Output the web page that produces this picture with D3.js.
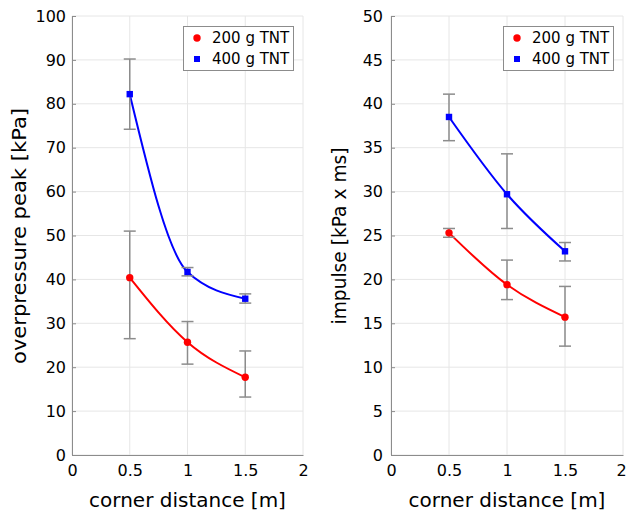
<!DOCTYPE html>
<html>
<head>
<meta charset="utf-8">
<script src="https://cdn.jsdelivr.net/npm/d3@7"></script>
<style>
  body { margin: 0; background: #fff; }
  text { font-family: "DejaVu Sans", sans-serif; fill: #000; }
</style>
</head>
<body>
<svg id="chart" width="627" height="515"></svg>
<script>
// corner distance [m]
var distance = [0.5, 1, 1.5]
var xTicks = [0, 0.5, 1, 1.5, 2]

// overpressure peak [kPa]
var peak200 = [40.4, 25.7, 17.7]
var peak200Lo = [26.5, 20.7, 13.2]
var peak200Hi = [51.0, 30.4, 23.7]
var peak400 = [82.2, 41.7, 35.6]
var peak400Lo = [74.2, 40.8, 34.6]
var peak400Hi = [90.2, 42.7, 36.7]

// impulse [kPa x ms]
var imp200 = [25.3, 19.4, 15.7]
var imp200Lo = [24.8, 17.7, 12.4]
var imp200Hi = [25.8, 22.2, 19.2]
var imp400 = [38.5, 29.7, 23.2]
var imp400Lo = [35.8, 25.8, 22.1]
var imp400Hi = [41.1, 34.3, 24.2]

var legendLabels = ['200 g TNT', '400 g TNT']

var svg = d3.select('#chart')

var drawPanel = function (opt) {
	var x = d3.scaleLinear().domain([0, 2]).range([opt.left, opt.right])
	var y = d3.scaleLinear().domain([0, opt.ymax]).range([455, 16])
	var g = svg.append('g')
	var yTicks = d3.range(0, opt.ymax + 0.001, opt.ystep)

	// grid
	g.selectAll('.gx').data(xTicks).enter().append('line')
		.attr('x1', d => x(d)).attr('x2', d => x(d))
		.attr('y1', y(0)).attr('y2', y(opt.ymax))
		.attr('stroke', '#e6e6e6').attr('stroke-width', 1)
	g.selectAll('.gy').data(yTicks).enter().append('line')
		.attr('x1', x(0)).attr('x2', x(2))
		.attr('y1', d => y(d)).attr('y2', d => y(d))
		.attr('stroke', '#e6e6e6').attr('stroke-width', 1)

	// axes
	var xAxis = g.append('g').attr('transform', 'translate(0,' + y(0) + ')')
		.call(d3.axisBottom(x).tickValues(xTicks).tickSize(0).tickPadding(10).tickFormat(d3.format('')))
	var yAxis = g.append('g').attr('transform', 'translate(' + x(0) + ',0)')
		.call(d3.axisLeft(y).tickValues(yTicks).tickSize(-4).tickPadding(opt.pad).tickFormat(d3.format('')))
	;[xAxis, yAxis].forEach(function (a) {
		a.select('.domain').attr('stroke', '#8c8c8c')
		a.selectAll('.tick line').attr('stroke', '#8c8c8c')
		a.selectAll('text').style('font-size', '16px').attr('fill', '#000')
	})
	xAxis.selectAll('text').attr('dy', '0.71em')
	// keep the last label inside the window
	xAxis.selectAll('.tick text').filter(d => d == 2).attr('dx', opt.lastDx)

	// labels
	g.append('text').attr('x', (opt.left + opt.right) / 2).attr('y', 507)
		.attr('text-anchor', 'middle').style('font-size', '20px').text('corner distance [m]')
	g.append('text').attr('transform', 'translate(' + opt.labelX + ',' + 236 + ') rotate(-90)')
		.attr('text-anchor', 'middle').style('font-size', '20px')
		.attr('textLength', opt.labelLen).attr('lengthAdjust', 'spacingAndGlyphs')
		.text(opt.label)

	var line = d3.line().x(d => x(d[0])).y(d => y(d[1])).curve(d3.curveMonotoneX)

	opt.series.forEach(function (s) {
		var pts = distance.map((d, i) => [d, s.v[i]])
		g.append('path').datum(pts).attr('d', line)
			.attr('fill', 'none').attr('stroke', s.color).attr('stroke-width', 2)
		distance.forEach(function (d, i) {
			var cx = x(d)
			g.append('line').attr('x1', cx).attr('x2', cx).attr('y1', y(s.lo[i])).attr('y2', y(s.hi[i]))
				.attr('stroke', '#8c8c8c').attr('stroke-width', 1.5)
			;[s.lo[i], s.hi[i]].forEach(function (e) {
				g.append('line').attr('x1', cx - 6).attr('x2', cx + 6).attr('y1', y(e)).attr('y2', y(e))
					.attr('stroke', '#8c8c8c').attr('stroke-width', 1.5)
			})
		})
		distance.forEach(function (d, i) {
			if (s.shape == 'circle') {
				g.append('circle').attr('cx', x(d)).attr('cy', y(s.v[i])).attr('r', 3.7).attr('fill', s.color)
			} else {
				g.append('rect').attr('x', x(d) - 3.2).attr('y', y(s.v[i]) - 3.2)
					.attr('width', 6.4).attr('height', 6.4).attr('fill', s.color)
			}
		})
	})

	// legend
	var lx = opt.right - 120, ly = 26
	g.append('rect').attr('x', lx + 0.5).attr('y', ly + 0.5).attr('width', 110).attr('height', 44)
		.attr('fill', '#fff').attr('stroke', '#8c8c8c')
	opt.series.forEach(function (s, i) {
		var cy = ly + 12 + i * 21
		if (s.shape == 'circle') {
			g.append('circle').attr('cx', lx + 14).attr('cy', cy).attr('r', 3.7).attr('fill', s.color)
		} else {
			g.append('rect').attr('x', lx + 11).attr('y', cy - 3).attr('width', 6).attr('height', 6).attr('fill', s.color)
		}
		g.append('text').attr('x', lx + 29).attr('y', cy).attr('dy', '0.36em')
			.style('font-size', '15px').text(legendLabels[i])
	})
}

drawPanel({
	left: 72, right: 303, ymax: 100, ystep: 10, pad: 6, lastDx: 0,
	label: 'overpressure peak [kPa]', labelX: 26, labelLen: 256,
	series: [
		{v: peak200, lo: peak200Lo, hi: peak200Hi, color: '#ff0000', shape: 'circle'},
		{v: peak400, lo: peak400Lo, hi: peak400Hi, color: '#0000ff', shape: 'square'}
	]
})

drawPanel({
	left: 391, right: 623, ymax: 50, ystep: 5, pad: 8, lastDx: -2,
	label: 'impulse [kPa x ms]', labelX: 346, labelLen: 177,
	series: [
		{v: imp200, lo: imp200Lo, hi: imp200Hi, color: '#ff0000', shape: 'circle'},
		{v: imp400, lo: imp400Lo, hi: imp400Hi, color: '#0000ff', shape: 'square'}
	]
})
</script>
</body>
</html>
